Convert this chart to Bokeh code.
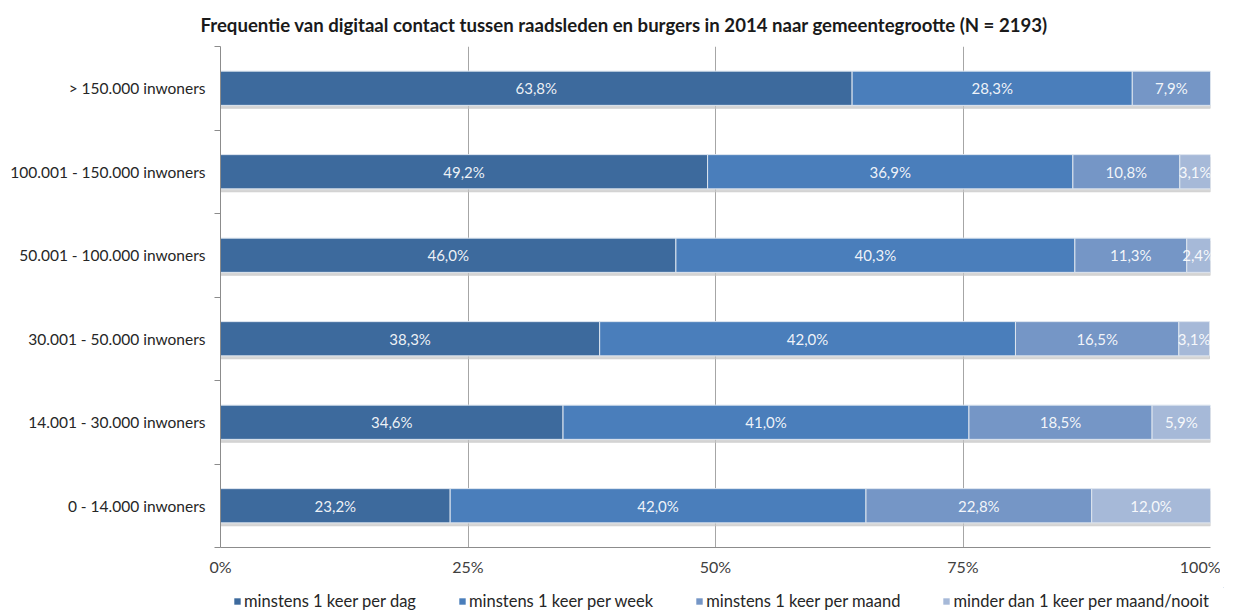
import numpy as np
from bokeh.plotting import figure
from bokeh.layouts import column
from bokeh.models import (Range1d, FixedTicker, PrintfTickFormatter, Legend, LegendItem,
                          ColumnDataSource, Title)
from bokeh.core.properties import value
from bokeh.embed import file_html
from bokeh.resources import INLINE

# ---- data (top to bottom as in the chart) ----
categories = ["> 150.000 inwoners", "100.001 - 150.000 inwoners", "50.001 - 100.000 inwoners",
              "30.001 - 50.000 inwoners", "14.001 - 30.000 inwoners", "0 - 14.000 inwoners"]
dag = [63.8, 49.2, 46.0, 38.3, 34.6, 23.2]
week = [28.3, 36.9, 40.3, 42.0, 41.0, 42.0]
maand = [7.9, 10.8, 11.3, 16.5, 18.5, 22.8]
nooit = [0.0, 3.1, 2.4, 3.1, 5.9, 12.0]
series_names = ["minstens 1 keer per dag", "minstens 1 keer per week",
                "minstens 1 keer per maand", "minder dan 1 keer per maand/nooit"]
x_ticks = [0, 25, 50, 75, 100]
title_text = "Frequentie van digitaal contact tussen raadsleden en burgers in 2014 naar gemeentegrootte (N = 2193)"

colors = ["#3D6A9D", "#4A7EBB", "#7596C6", "#A6B9D8"]
FONT = "Lato"

n = len(categories)
ypos = np.array([n - i - 0.5 for i in range(n)])
vals = np.array([dag, week, maand, nooit])
rights = np.cumsum(vals, axis=0)
lefts = rights - vals

p = figure(frame_width=990, frame_height=501, output_backend="svg", toolbar_location=None,
           x_range=Range1d(0, 100), y_range=Range1d(0, n),
           min_border_left=220, min_border_right=10, min_border_top=0, min_border_bottom=40)
p.outline_line_color = None
p.background_fill_color = "white"

t = Title(text=title_text, align="left", offset=-20, text_font=FONT, text_font_size="18.6px",
          text_font_style="bold", text_color="#1a1a1a", standoff=22)
p.add_layout(t, "above")
p.title.visible = False

# shadows
p.hbar(y=ypos - 0.035, left=0, right=rights[-1], height=0.41, color="#c4c4c4", alpha=0.7)

bar_h = 0.41
for k in range(4):
    src = ColumnDataSource(dict(y=ypos, left=lefts[k], right=rights[k]))
    p.hbar(y="y", left="left", right="right", height=bar_h, source=src,
           fill_color=colors[k], line_color="#dde5ef", line_width=1)

# value labels
tx, ty, tt = [], [], []
for k in range(4):
    for i in range(n):
        v = vals[k][i]
        if v > 0:
            tx.append((lefts[k][i] + rights[k][i]) / 2)
            ty.append(ypos[i])
            tt.append(f"{v:.1f}".replace(".", ",") + "%")
p.text(x=tx, y=ty, text=tt, text_align="center", text_baseline="middle",
       text_font=value(FONT), text_font_size="15px", text_color="white", text_alpha=0.92)

# grid
p.ygrid.visible = False
p.xgrid.ticker = FixedTicker(ticks=x_ticks[1:])
p.xgrid.grid_line_color = "#a6a6a6"
p.xgrid.grid_line_width = 1

# x axis
p.xaxis.ticker = FixedTicker(ticks=x_ticks)
p.xaxis.formatter = PrintfTickFormatter(format="%d%%")
p.xaxis.axis_line_color = "#8c8c8c"
p.xaxis.major_tick_line_color = None
p.xaxis.major_tick_out = 0
p.xaxis.major_tick_in = 0
p.xaxis.minor_tick_line_color = None
p.xaxis.major_label_text_font = FONT
p.xaxis.major_label_text_font_size = "16px"
p.xaxis.major_label_text_color = "#404040"
p.xaxis.major_label_standoff = 9

# y axis
p.yaxis.ticker = FixedTicker(ticks=list(ypos), minor_ticks=list(range(n + 1)))
p.yaxis.major_label_overrides = {float(y): c for y, c in zip(ypos, categories)}
p.yaxis.axis_line_color = "#8c8c8c"
p.yaxis.major_tick_line_color = None
p.yaxis.major_tick_out = 0
p.yaxis.major_tick_in = 0
p.yaxis.minor_tick_line_color = "#8c8c8c"
p.yaxis.minor_tick_out = 6
p.yaxis.minor_tick_in = 0
p.yaxis.major_label_text_font = FONT
p.yaxis.major_label_text_font_size = "15.5px"
p.yaxis.major_label_text_color = "#262626"
p.yaxis.major_label_standoff = 9

# ---- legend strip (separate small figure below the chart) ----
lg = figure(width=1233, height=26, output_backend="svg", toolbar_location=None,
            min_border=0, x_range=Range1d(0, 1), y_range=Range1d(0, 1))
lg.axis.visible = False
lg.grid.visible = False
lg.outline_line_color = None
swatches = []
for k in range(4):
    # swatch renderers hold a point outside the visible range; only their legend glyph is shown
    swatches.append(lg.hbar(y=[5], left=[5], right=[6], height=1, fill_color=colors[k], line_color=None))

legend = Legend(items=[LegendItem(label=series_names[k], renderers=[swatches[k]]) for k in range(4)],
                orientation="horizontal", location=(13, 2), glyph_width=8, glyph_height=8,
                label_standoff=3, spacing=42, padding=0, margin=0, label_height=20,
                label_text_font=FONT, label_text_font_size="16.5px", label_text_color="#262626",
                border_line_color=None, background_fill_alpha=0)
lg.add_layout(legend, "center")

layout = column(p, lg, spacing=0)
open("out.html", "w").write(file_html(layout, INLINE))
